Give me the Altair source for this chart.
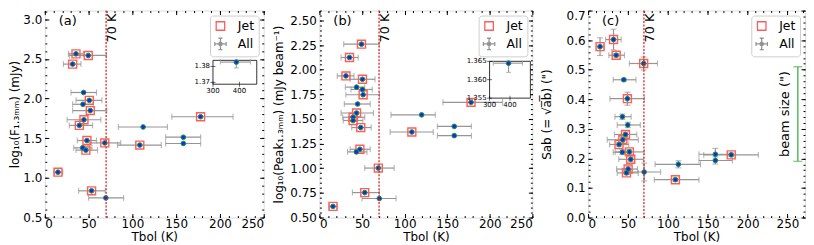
import altair as alt
import pandas as pd

FONT = "DejaVu Sans"
EB = "#959595"
DOT_FILL = "#0b2bff"
DOT_EDGE = "#1f9a1f"
JET_RED = "#ff5c5c"
VLINE_RED = "#d62728"
BEAM_GREEN = "#5cb85c"
GROUPS = ["Jet", "All"]
SQ_PATH = "M-0.75,-0.75H0.75V0.75H-0.75Z"
ALL_PATH = ("M-1,0H1M0,-1V1M-1,-0.35V0.35M1,-0.35V0.35M-0.35,-1H0.35M-0.35,1H0.35"
            "M-0.3,0A0.3,0.3,0,1,0,0.3,0A0.3,0.3,0,1,0,-0.3,0Z")
H_PLOT = 208

# ---------------- panel (a): log10(F_1.3mm) ----------------
A_T = [15, 31.8, 35.6, 49.6, 44.3, 50.8, 43.6, 51.9, 44.7, 39.4, 48.1, 43.2, 46.9, 68.5, 53.4, 69.7, 108.5, 112.3, 158.2, 158.2, 177.9]
A_TLO = [11, 21.2, 26.9, 28, 29.9, 35.6, 31.8, 31.8, 25.4, 28, 37.1, 33, 35.6, 50.8, 38.6, 50, 83, 84, 138, 138, 145]
A_THI = [20.5, 41.3, 44, 70.5, 59.1, 65.2, 55.3, 70.8, 64, 54.5, 59.1, 53.8, 60.2, 86.7, 69, 90, 133, 140, 178, 178, 215]
A_Y = [1.072, 2.435, 2.564, 2.544, 2.077, 1.978, 1.928, 1.849, 1.733, 1.662, 1.471, 1.379, 1.35, 1.441, 0.837, 0.748, 1.414, 1.642, 1.513, 1.434, 1.771]
A_YERR = [0] * 21
A_JET = [1, 1, 1, 1, 0, 1, 0, 1, 1, 1, 1, 0, 1, 1, 1, 0, 1, 0, 0, 0, 1]
# inset (a)
IA_T = [388]
IA_TLO = [328]
IA_THI = [441]
IA_Y = [1.3827]
IA_YLO = [1.379]
IA_YHI = [1.3838]
IA_XT = [300, 400]
IA_YT = [1.37, 1.38]

# ---------------- panel (b): log10(Peak_1.3mm) ----------------
B_T = [49.4, 35.3, 31.1, 50.5, 43.6, 50.5, 51.3, 44.8, 43.6, 39.5, 39.5, 48.5, 47.5, 43.3, 69.1, 53.2, 70.3, 15.9, 178, 120, 158.3, 108.5, 158.3]
B_TLO = [28.5, 25.4, 20.9, 36, 30.4, 37, 31, 29.2, 25.4, 27.3, 28, 37.9, 36, 33, 53.2, 38.7, 50, 11.4, 145, 84, 138.5, 83, 138.5]
B_THI = [70.3, 45.5, 40.6, 65.3, 53.2, 62, 70.5, 59.6, 63.4, 53.2, 51, 60.7, 59.6, 55.8, 87.7, 70.3, 90, 20.9, 215, 136, 178.4, 133.6, 178.4]
B_Y = [2.259, 2.124, 1.937, 1.903, 1.823, 1.80, 1.746, 1.652, 1.561, 1.518, 1.485, 1.413, 1.193, 1.166, 1.002, 0.753, 0.693, 0.613, 1.669, 1.542, 1.425, 1.368, 1.331]
B_YERR = [0] * 23
B_JET = [1, 1, 1, 1, 0, 0, 1, 0, 1, 1, 1, 1, 1, 0, 1, 1, 0, 1, 1, 0, 0, 1, 0]
# inset (b)
IB_T = [393]
IB_TLO = [318]
IB_THI = [461]
IB_Y = [1.3645]
IB_YLO = [1.362]
IB_YHI = [1.365]
IB_XT = [300, 400]
IB_YT = [1.355, 1.36, 1.365]

# ---------------- panel (c): S_ab ----------------
C_T = [15, 31.9, 35.2, 69.7, 44.8, 49.3, 43.0, 49.8, 46.9, 43.6, 38.8, 42.9, 51.8, 53.5, 50.2, 48.1, 70.3, 113.2, 109.5, 159.6, 159.6, 179.5]
C_TLO = [11, 22, 26, 51.8, 31.5, 27.4, 33.6, 36.5, 33, 24, 27, 31.5, 34, 38.5, 35.7, 36.5, 51, 84, 83, 139, 139, 145]
C_THI = [20, 41.5, 45.6, 87, 60, 70.5, 54, 65.5, 61, 63, 51, 49, 70.5, 69.7, 62, 63, 91, 141, 139, 179.5, 181, 213.5]
C_Y = [0.578, 0.602, 0.549, 0.521, 0.466, 0.402, 0.341, 0.313, 0.281, 0.263, 0.247, 0.221, 0.222, 0.197, 0.164, 0.151, 0.154, 0.18, 0.128, 0.214, 0.193, 0.212]
C_YERR = [0.03, 0.035, 0.006, 0.022, 0.005, 0.022, 0.009, 0.009, 0.008, 0.008, 0.006, 0.008, 0.008, 0.008, 0.008, 0.006, 0.03, 0.012, 0.005, 0.02, 0.012, 0.006]
C_JET = [1, 1, 1, 1, 0, 1, 0, 0, 1, 1, 1, 0, 1, 1, 1, 1, 0, 0, 1, 0, 0, 1]
BEAM_X = [263]
BEAM_LO = [0.19]
BEAM_HI = [0.51]
BEAM_TEXT_X = [247]
BEAM_TEXT_Y = [0.35]
BEAM_LABEL = ["beam size (\")"]

REF_T = [70]
REF_LABEL = ["70 K"]

X_MAJOR = [0, 50, 100, 150, 200, 250]


def ax(**kw):
    d = dict(grid=False, domain=False, labelFont=FONT, titleFont=FONT, minExtent=0,
             labelColor="black", titleColor="black", titleFontWeight="normal")
    d.update(kw)
    return alt.Axis(**d)


def tick_axis(orient, values, size):
    return ax(orient=orient, offset=-size, values=values, labels=False, ticks=True,
              tickSize=size, tickWidth=1, tickColor="black", title=None)


def make_panel(p):
    n = len(p["T"])
    df = pd.DataFrame({"t": p["T"], "tlo": p["TLO"], "thi": p["THI"], "y": p["Y"],
                       "ylo": [p["Y"][i] - p["YERR"][i] for i in range(n)],
                       "yhi": [p["Y"][i] + p["YERR"][i] for i in range(n)],
                       "jet": p["JET"]})
    df["grp"] = ["Jet" if j else "All" for j in p["JET"]]
    xs = alt.Scale(domain=p["xdom"], nice=False, zero=False)
    ys = alt.Scale(domain=p["ydom"], nice=False, zero=False)
    base = alt.Chart(df)
    layers = []

    xerr = base.mark_errorbar(ticks={"size": 6, "thickness": 1.1}, color=EB, thickness=1.2).encode(
        x=alt.X("tlo:Q", scale=xs,
                axis=ax(orient="bottom", values=X_MAJOR, format="d", ticks=False, tickSize=0,
                        labelFontSize=12, labelPadding=1, title="Tbol (K)",
                        titleFontSize=12, titlePadding=2)),
        x2="thi:Q",
        y=alt.Y("y:Q", scale=ys,
                axis=ax(orient="left", values=p["ylab"], format=p["yfmt"], ticks=False,
                        tickSize=0, labelFontSize=12, labelPadding=3, title=p["ytitle"],
                        titleFontSize=12, titlePadding=p["tpad"])),
    )
    layers.append(xerr)
    if any(e > 0 for e in p["YERR"]):
        yerr = base.mark_errorbar(ticks={"size": 6, "thickness": 1.1}, color=EB, thickness=1.2).encode(
            x=alt.X("t:Q", scale=xs, axis=None),
            y=alt.Y("ylo:Q", scale=ys, axis=None),
            y2="yhi:Q",
        )
        layers.append(yerr)

    leg = alt.Legend(title=None, orient="top-right", offset=5, padding=4,
                     strokeColor="#cfcfcf", fillColor="white", cornerRadius=3,
                     labelFont=FONT, labelFontSize=12.5, labelColor="black",
                     symbolSize=130, symbolStrokeWidth=1.3, labelOffset=11, rowPadding=2)
    squares = base.transform_filter("datum.jet == 1").mark_point(size=114, strokeWidth=1.4, opacity=1).encode(
        x=alt.X("t:Q", scale=xs, axis=None),
        y=alt.Y("y:Q", scale=ys, axis=None),
        shape=alt.Shape("grp:N", scale=alt.Scale(domain=GROUPS, range=[SQ_PATH, ALL_PATH]), legend=leg),
        stroke=alt.Stroke("grp:N", scale=alt.Scale(domain=GROUPS, range=[JET_RED, EB]), legend=leg),
        fill=alt.Fill("grp:N", scale=alt.Scale(domain=GROUPS, range=["transparent", DOT_FILL]), legend=leg),
    )
    layers.append(squares)
    dots = base.mark_circle(size=22, color=DOT_FILL, stroke=DOT_EDGE, strokeWidth=1, opacity=1).encode(
        x=alt.X("t:Q", scale=xs, axis=None),
        y=alt.Y("y:Q", scale=ys, axis=None),
    )
    layers.append(dots)

    ref = alt.Chart(pd.DataFrame({"t": REF_T, "lab": REF_LABEL}))
    layers.append(ref.mark_rule(color=VLINE_RED, strokeDash=[2, 1.5], strokeWidth=1.3).encode(
        x=alt.X("t:Q", scale=xs, axis=None)))
    layers.append(ref.mark_text(angle=270, align="right", baseline="top", font=FONT,
                                fontSize=13, color="black").encode(
        x=alt.X("t:Q", scale=xs, axis=None), y=alt.value(3), text="lab:N"))

    layers.append(alt.Chart(pd.DataFrame({"lab": [p["label"]]})).mark_text(
        align="left", baseline="top", font=FONT, fontSize=13, color="black").encode(
        x=alt.value(14), y=alt.value(4), text="lab:N"))

    if p.get("beam"):
        bdf = pd.DataFrame({"bx": BEAM_X, "blo": BEAM_LO, "bhi": BEAM_HI,
                            "tx": BEAM_TEXT_X, "ty": BEAM_TEXT_Y, "lab": BEAM_LABEL})
        bc = alt.Chart(bdf)
        layers.append(bc.mark_errorbar(ticks={"size": 9, "thickness": 1.5}, color=BEAM_GREEN, thickness=1.5).encode(
            x=alt.X("bx:Q", scale=xs, axis=None),
            y=alt.Y("blo:Q", scale=ys, axis=None), y2="bhi:Q"))
        layers.append(bc.mark_text(angle=270, align="center", baseline="middle", font=FONT,
                                   fontSize=13, color="black").encode(
            x=alt.X("tx:Q", scale=xs, axis=None), y=alt.Y("ty:Q", scale=ys, axis=None), text="lab:N"))

    if p.get("ytop"):
        layers.append(base.mark_point(opacity=0).encode(
            x=alt.X("t:Q", scale=xs, axis=None),
            y=alt.Y("y:Q", scale=ys,
                    axis=ax(orient="left", values=p["ytop"], format=p["yfmt"], ticks=False,
                            tickSize=0, labelFontSize=12, labelPadding=3, labelBaseline="top",
                            title=None))))

    # inward tick marks on all four sides (major + minor)
    for (ox, oy, xv, yv, s) in [("bottom", "left", X_MAJOR, p["ymaj"], 4),
                                ("top", "right", X_MAJOR, p["ymaj"], 4),
                                ("bottom", "left", p["xmin"], p["ymin"], 2),
                                ("top", "right", p["xmin"], p["ymin"], 2)]:
        layers.append(base.mark_point(opacity=0).encode(
            x=alt.X("t:Q", scale=xs, axis=tick_axis(ox, xv, s)),
            y=alt.Y("y:Q", scale=ys, axis=tick_axis(oy, yv, s))))

    main = alt.layer(*layers).resolve_axis(x="independent", y="independent")

    if p.get("inset"):
        ins = p["inset"]
        idf = pd.DataFrame({"t": ins["T"], "tlo": ins["TLO"], "thi": ins["THI"],
                            "y": ins["Y"], "ylo": ins["YLO"], "yhi": ins["YHI"]})
        fdf = pd.DataFrame({"x0": [ins["xdom"][0]], "x1": [ins["xdom"][1]],
                            "y0": [ins["ydom"][0]], "y1": [ins["ydom"][1]]})
        xtdf = pd.DataFrame({"x": ins["xt"], "y": [ins["ydom"][0]] * len(ins["xt"]),
                             "lab": [str(v) for v in ins["xt"]]})
        ytdf = pd.DataFrame({"x": [ins["xdom"][0]] * len(ins["yt"]), "y": ins["yt"],
                             "lab": [format(v, ins["yfmt"]) for v in ins["yt"]]})
        ixs = alt.Scale(domain=ins["xdom"], range=ins["xr"], nice=False, zero=False)
        iys = alt.Scale(domain=ins["ydom"], range=ins["yr"], nice=False, zero=False)

        def IX(f):
            return alt.X(f, scale=ixs, axis=None)

        def IY(f):
            return alt.Y(f, scale=iys, axis=None)

        frame = alt.Chart(fdf).mark_rect(fill="white", stroke="black", strokeWidth=0.8).encode(
            x=IX("x0:Q"), x2="x1:Q", y=IY("y0:Q"), y2="y1:Q")
        xt = alt.Chart(xtdf)
        yt = alt.Chart(ytdf)
        xticks = xt.mark_tick(orient="vertical", size=5, thickness=0.8, color="black").encode(
            x=IX("x:Q"), y=IY("y:Q"))
        xlabels = xt.mark_text(baseline="top", dy=3, font=FONT, fontSize=7, color="black").encode(
            x=IX("x:Q"), y=IY("y:Q"), text="lab:N")
        yticks = yt.mark_tick(orient="horizontal", size=5, thickness=0.8, color="black").encode(
            x=IX("x:Q"), y=IY("y:Q"))
        ylabels = yt.mark_text(align="right", baseline="middle", dx=-3, font=FONT, fontSize=7,
                               color="black").encode(x=IX("x:Q"), y=IY("y:Q"), text="lab:N")
        ib = alt.Chart(idf)
        ixe = ib.mark_errorbar(ticks={"size": 5, "thickness": 1}, color=EB, thickness=1.1).encode(
            x=IX("tlo:Q"), x2="thi:Q", y=IY("y:Q"))
        iye = ib.mark_errorbar(ticks={"size": 5, "thickness": 1}, color=EB, thickness=1.1).encode(
            x=IX("t:Q"), y=IY("ylo:Q"), y2="yhi:Q")
        idot = ib.mark_circle(size=22, color=DOT_FILL, stroke=DOT_EDGE, strokeWidth=1, opacity=1).encode(
            x=IX("t:Q"), y=IY("y:Q"))
        inset = alt.layer(frame, xticks, xlabels, yticks, ylabels, ixe, iye, idot)
        chart = alt.layer(main, inset).resolve_scale(x="independent", y="independent")
    else:
        chart = main
    return chart.properties(width=p["w"], height=H_PLOT)


def steps(a, b, s):
    out = []
    k = 0
    while a + k * s <= b + 1e-9:
        out.append(round(a + k * s, 4))
        k += 1
    return out


panel_a = make_panel(dict(
    label="(a)", T=A_T, TLO=A_TLO, THI=A_THI, Y=A_Y, YERR=A_YERR, JET=A_JET,
    xdom=[0, 250], ydom=[0.5, 3.11], w=220, tpad=1,
    ylab=[0.5, 1.0, 1.5, 2.0, 2.5, 3.0], yfmt=".1f", ymaj=[0.5, 1.0, 1.5, 2.0, 2.5, 3.0],
    ymin=steps(0.5, 3.1, 0.1), xmin=steps(0, 250, 10),
    ytitle="log₁₀(F₁.₃ₘₘ) (mJy)",
    inset=dict(T=IA_T, TLO=IA_TLO, THI=IA_THI, Y=IA_Y, YLO=IA_YLO, YHI=IA_YHI,
               xdom=[300, 465], ydom=[1.3688, 1.3838], xr=[169, 213], yr=[74, 50],
               xt=IA_XT, yt=IA_YT, yfmt=".2f"),
))

panel_b = make_panel(dict(
    label="(b)", T=B_T, TLO=B_TLO, THI=B_THI, Y=B_Y, YERR=B_YERR, JET=B_JET,
    xdom=[0, 250], ydom=[0.5, 2.6], w=214, tpad=4,
    ylab=[0.5, 0.75, 1.0, 1.25, 1.5, 1.75, 2.0, 2.25, 2.5], yfmt=".2f",
    ymaj=[0.5, 0.75, 1.0, 1.25, 1.5, 1.75, 2.0, 2.25, 2.5],
    ymin=steps(0.5, 2.6, 0.05), xmin=steps(0, 250, 10),
    ytitle="log₁₀(Peak₁.₃ₘₘ) (mJy beam⁻¹)",
    inset=dict(T=IB_T, TLO=IB_TLO, THI=IB_THI, Y=IB_Y, YLO=IB_YLO, YHI=IB_YHI,
               xdom=[300, 500], ydom=[1.355, 1.365], xr=[171, 212], yr=[88, 51],
               xt=IB_XT, yt=IB_YT, yfmt=".3f"),
))

panel_c = make_panel(dict(
    label="(c)", T=C_T, TLO=C_TLO, THI=C_THI, Y=C_Y, YERR=C_YERR, JET=C_JET,
    xdom=[0, 272], ydom=[0.0, 0.7], w=218, tpad=13,
    ylab=[0.0, 0.1, 0.2, 0.3, 0.4, 0.5, 0.6], ytop=[0.7], yfmt=".1f",
    ymaj=[0.0, 0.1, 0.2, 0.3, 0.4, 0.5, 0.6, 0.7],
    ymin=steps(0.0, 0.7, 0.02), xmin=steps(0, 270, 10),
    ytitle="Sab (= √a̅b̅) (\")",
    beam=True,
))

chart = alt.hconcat(panel_a, panel_b, panel_c, spacing=56, bounds="flush").resolve_scale(
    shape="independent", stroke="independent", fill="independent"
).resolve_legend(
    shape="independent", stroke="independent", fill="independent"
).properties(padding=0).configure_view(stroke="black", strokeWidth=1).configure(font=FONT)

chart.save("out.html", embed_options={"renderer": "svg", "actions": False})
